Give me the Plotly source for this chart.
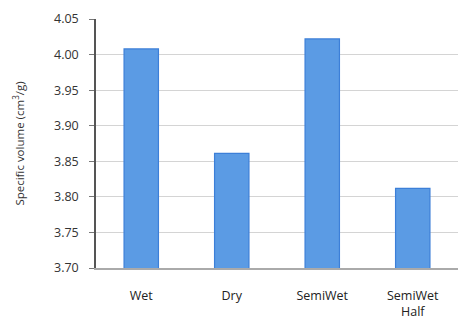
import plotly.graph_objects as go

categories = ["Wet", "Dry", "SemiWet", "SemiWet<br>Half"]
values = [4.008, 3.861, 4.022, 3.812]
tick_vals = [3.70, 3.75, 3.80, 3.85, 3.90, 3.95, 4.00, 4.05]

fig = go.Figure()
fig.add_trace(go.Bar(
    x=categories, y=values, width=0.38,
    marker=dict(color="#5B9BE4", line=dict(color="#3C7FD8", width=1.2)),
))

fig.update_layout(
    width=458, height=325,
    margin=dict(l=96, r=0, t=19, b=57),
    plot_bgcolor="white", paper_bgcolor="white",
    showlegend=False,
    font=dict(family="Open Sans, Liberation Sans, sans-serif", size=11, color="#222"),
)
fig.update_yaxes(
    range=[3.70, 4.05], tickvals=tick_vals, tickformat=".2f",
    showgrid=True, gridcolor="#D4D4D4", gridwidth=1,
    showline=True, linecolor="#555", linewidth=1.5,
    ticks="outside", ticklen=5, tickcolor="#777",
    ticklabelstandoff=8,
    tickfont=dict(size=12.5, color="#333"),
    title=dict(text="Specific volume (cm<sup>3</sup>/g)", font=dict(size=11.5, color="#333"), standoff=27),
    zeroline=False,
)
fig.update_xaxes(
    showline=True, linecolor="#AAAAAA", linewidth=1.5,
    ticks="", ticklabelstandoff=15,
    tickfont=dict(size=12.5, color="#222"),
)

fig.write_html("out.html")
